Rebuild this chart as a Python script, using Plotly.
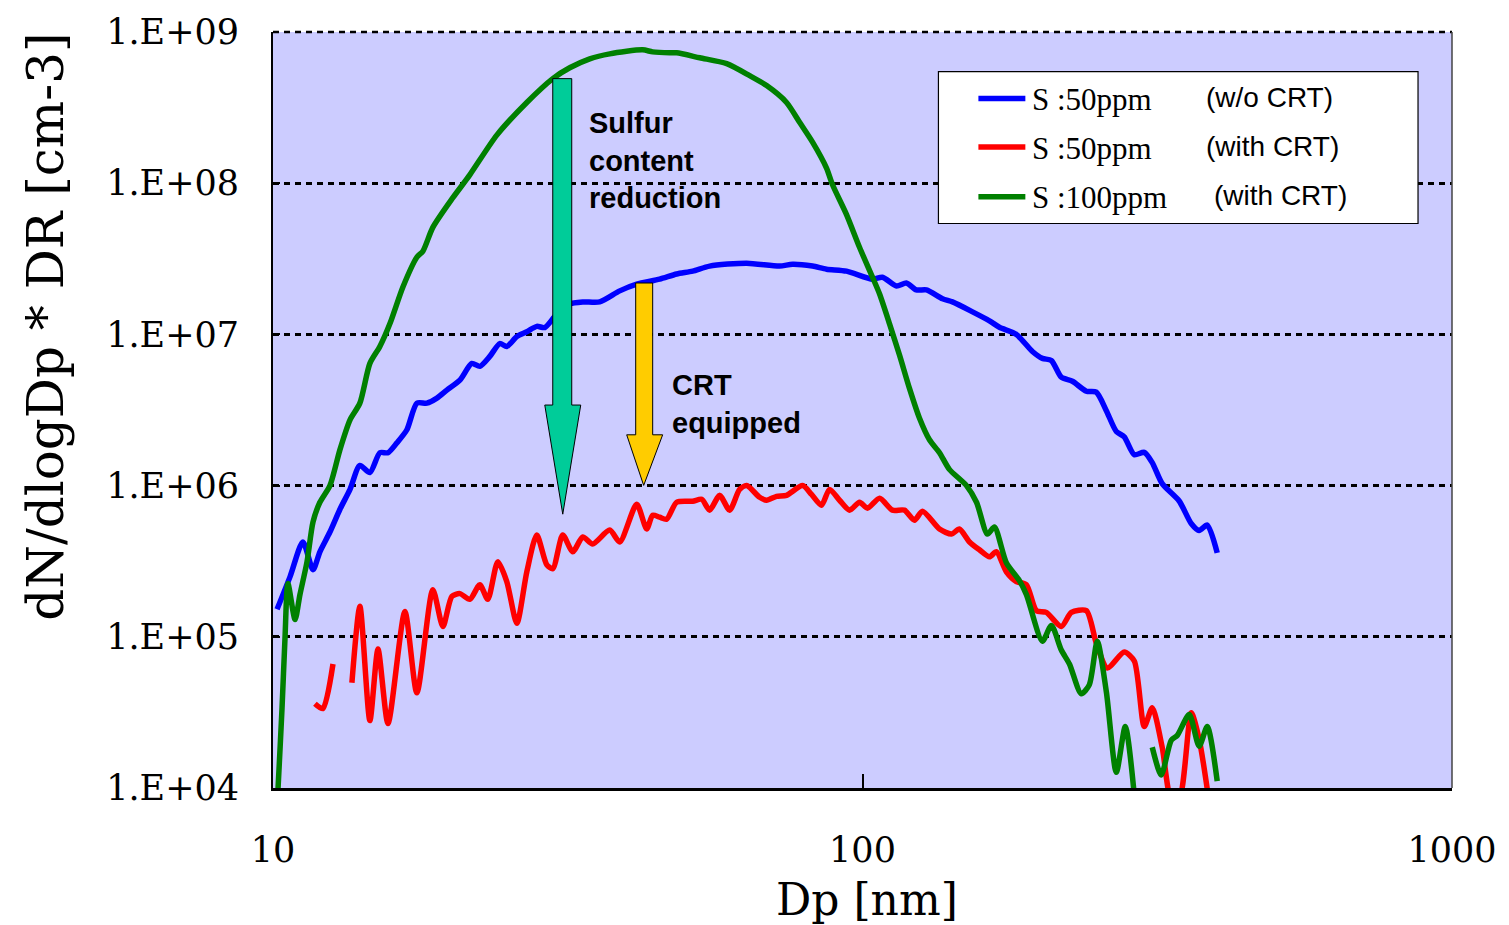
import plotly.graph_objects as go

# ---------------- data ----------------
blue_dp = [10.16, 10.69, 11.24, 11.69, 12.01, 12.49, 12.99, 13.51, 14.04, 14.60,
           15.18, 15.67, 16.23, 16.87, 17.54, 18.24, 18.97, 19.72, 20.75, 21.74,
           22.43, 23.32, 24.25, 24.92, 25.92, 26.95, 28.02, 28.91, 30.06, 31.01,
           31.87, 33.53, 35.83, 38.74, 41.40, 45.28, 48.39, 51.51, 55.04, 63.60,
           72.33, 76.10, 82.27, 86.89, 93.95, 103.98, 108.1, 114.2, 118.7, 123.4,
           128.4, 136.7, 142.1, 153.7, 164.2, 170.7, 182.4, 194.2, 201.9, 209.1,
           217.4, 227.0, 239.7, 249.2, 259.2, 269.5, 278.0, 289.1, 300.6, 310.1,
           322.4, 344.5, 361.1, 372.5, 384.4, 399.7]
blue_n = [1.52e5, 2.50e5, 4.24e5, 2.78e5, 3.65e5, 4.93e5, 6.98e5, 9.44e5, 1.36e6, 1.22e6,
          1.65e6, 1.65e6, 1.92e6, 2.34e6, 3.51e6, 3.51e6, 3.79e6, 4.28e6, 4.98e6, 6.43e6,
          6.15e6, 7.15e6, 8.70e6, 8.32e6, 9.67e6, 1.04e7, 1.13e7, 1.11e7, 1.31e7, 1.43e7,
          1.59e7, 1.64e7, 1.64e7, 1.94e7, 2.15e7, 2.32e7, 2.51e7, 2.62e7, 2.83e7, 2.96e7,
          2.83e7, 2.91e7, 2.83e7, 2.70e7, 2.62e7, 2.32e7, 2.39e7, 2.09e7, 2.19e7, 1.97e7,
          1.97e7, 1.72e7, 1.64e7, 1.41e7, 1.23e7, 1.115e7, 1.00e7, 7.71e6, 6.94e6, 6.73e6,
          5.21e6, 4.90e6, 4.21e6, 4.15e6, 3.13e6, 2.28e6, 2.10e6, 1.60e6, 1.66e6, 1.42e6,
          1.03e6, 7.91e5, 5.61e5, 5.04e5, 5.48e5, 3.59e5]

red_dp = [11.78, 12.15, 12.64, 13.1,
          13.61, 14.04, 14.60, 15.07, 15.67, 16.74, 17.54, 18.67, 19.42, 20.11,
          20.75, 21.57, 22.43, 23.14, 24.06, 24.92, 25.92, 26.95, 28.02, 29.14,
          29.83, 31.01, 32.25, 33.53, 34.85, 37.25, 38.74, 41.40, 43.05, 44.06,
          45.28, 46.54, 48.39, 51.51, 53.37, 55.04, 57.24, 59.51, 61.88, 63.60,
          66.91, 68.76, 71.48, 74.33, 79.13, 81.95, 85.21, 87.92, 91.42, 95.06,
          98.84, 101.97, 106.9, 112.4, 117.8, 122.5, 126.4, 135.1, 141.6, 146.0,
          151.9, 157.9, 164.2, 168.7, 175.4, 182.4, 189.7, 197.2, 205.0, 217.4,
          226.1, 239.7, 249.2, 260.2, 278.0, 289.1, 300.6, 310.1, 322.4, 334.0,
          344.5, 361.1, 372.5, 387.4]
red_n = [3.61e4, 3.35e4, 6.61e4, None,
         4.96e4, 1.59e5, 2.79e4, 8.29e4, 2.67e4, 1.47e5, 4.26e4, 2.05e5, 1.17e5, 1.85e5,
         1.93e5, 1.77e5, 2.21e5, 1.77e5, 3.13e5, 2.32e5, 1.23e5, 2.69e5, 4.71e5, 2.99e5,
         2.82e5, 4.71e5, 3.65e5, 4.57e5, 4.11e5, 5.08e5, 4.24e5, 7.52e5, 5.16e5, 6.37e5,
         6.18e5, 6.00e5, 7.76e5, 7.88e5, 8.12e5, 6.88e5, 8.62e5, 6.88e5, 9.44e5, 1.00e6,
         8.37e5, 8.00e5, 8.49e5, 8.62e5, 1.00e6, 8.75e5, 7.41e5, 9.44e5, 8.00e5, 6.88e5,
         7.76e5, 7.09e5, 8.24e5, 6.88e5, 6.88e5, 5.91e5, 6.77e5, 5.16e5, 4.78e5, 5.16e5,
         4.24e5, 3.76e5, 3.38e5, 3.65e5, 2.69e5, 2.32e5, 2.21e5, 1.49e5, 1.45e5, 1.17e5,
         1.45e5, 1.49e5, 9.08e4, 6.22e4, 7.93e4, 6.92e4, 2.55e4, 3.40e4, 1.86e4, 8.5e3,
         8.5e3, 3.15e4, 2.10e4, 8.0e3]

green_dp = [10.10, 10.20, 10.36, 10.48, 10.60, 10.90, 11.11, 11.42, 11.69, 12.01,
            12.49, 12.99, 13.51, 14.04, 14.60, 15.18, 15.79, 16.61, 17.54, 17.96,
            18.67, 20.19, 21.57, 23.97, 26.95, 29.83, 31.87, 34.46, 37.25, 42.37,
            44.06, 47.09, 48.39, 52.96, 58.83, 64.35, 68.76, 74.33, 78.21, 82.27,
            86.89, 88.96, 93.95, 98.84, 103.98, 106.9, 111.1, 115.6, 120.1, 124.9,
            129.9, 135.1, 140.4, 150.1, 156.1, 162.9, 167.4, 175.4, 184.6, 189.7,
            201.9, 209.1, 217.4, 224.4, 235.0, 242.5, 250.2, 259.2, 269.5, 279.1,
            289.1, 300.0, 310.1, 321.2, 334.0, 342.0, 358.3, 372.5, 384.4, 399.7]
green_n = [5.0e3, 1.0e4, 3.40e4, 9.79e4, 2.25e5, 1.30e5, 1.90e5, 3.13e5, 5.74e5, 7.76e5,
           1.00e6, 1.73e6, 2.72e6, 3.51e6, 6.43e6, 8.32e6, 1.18e7, 2.06e7, 3.24e7, 3.55e7,
           5.10e7, 8.02e7, 1.135e8, 2.08e8, 3.42e8, 4.92e8, 5.80e8, 6.65e8, 7.17e8, 7.62e8,
           7.39e8, 7.28e8, 7.28e8, 6.75e8, 6.17e8, 5.14e8, 4.42e8, 3.42e8, 2.53e8, 1.87e8,
           1.26e8, 9.76e7, 6.20e7, 3.77e7, 2.39e7, 1.85e7, 1.18e7, 7.26e6, 4.41e6, 2.80e6,
           2.01e6, 1.65e6, 1.28e6, 1.00e6, 7.76e5, 4.78e5, 5.32e5, 3.09e5, 2.35e5, 1.90e5,
           9.36e4, 1.19e5, 8.17e4, 6.61e4, 4.20e4, 4.81e4, 9.36e4, 4.33e4, 1.27e4, 2.55e4,
           9.0e3, None, 1.86e4, 1.22e4, 2.07e4, 2.23e4, 3.06e4, 1.89e4, 2.55e4, 1.11e4]

series_names = ["S :50ppm", "S :50ppm", "S :100ppm"]
series_notes = ["(w/o CRT)", "(with CRT)", "(with CRT)"]
series_colors = ["#0000FF", "#FF0000", "#008000"]

x_tickvals = [10, 100, 1000]
x_ticktext = ["10", "100", "1000"]
y_tickvals = [1e4, 1e5, 1e6, 1e7, 1e8, 1e9]
y_ticktext = ["1.E+04", "1.E+05", "1.E+06", "1.E+07", "1.E+08", "1.E+09"]

# ---------------- layout helpers ----------------
W, H = 1509, 925
# plot box in the reference picture (pixels)
X0, X1, Y0, Y1 = 273, 1453, 26, 788


def px(x):
    return (x - X0) / (X1 - X0)


def py(y):
    return (Y1 - y) / (Y1 - Y0)


fig = go.Figure()
for dp, n, col, nm in [(blue_dp, blue_n, series_colors[0], series_names[0]),
                       (red_dp, red_n, series_colors[1], series_names[1]),
                       (green_dp, green_n, series_colors[2], series_names[2])]:
    fig.add_trace(go.Scatter(x=dp, y=n, mode="lines", name=nm,
                             line=dict(color=col, width=5.5, shape="spline", smoothing=0.7),
                             connectgaps=False, showlegend=False))

serif = "DejaVu Serif"
shapes = []
# top dashed gridline (1.E+09) and right border
shapes.append(dict(type="line", xref="paper", yref="paper", x0=0, x1=1, y0=1, y1=1,
                   line=dict(color="black", width=2.5, dash="6px,5px")))
shapes.append(dict(type="line", xref="paper", yref="paper", x0=1, x1=1, y0=0, y1=1,
                   line=dict(color="#444444", width=1.5)))
# arrows
teal = (f"M {px(553)},{py(73)} L {px(572)},{py(73)} L {px(572)},{py(402)} "
        f"L {px(581)},{py(402)} L {px(563)},{py(512)} L {px(545)},{py(402)} "
        f"L {px(553)},{py(402)} Z")
yellow = (f"M {px(636)},{py(279)} L {px(653)},{py(279)} L {px(653)},{py(432)} "
          f"L {px(663)},{py(432)} L {px(644)},{py(483)} L {px(627)},{py(432)} "
          f"L {px(636)},{py(432)} Z")
shapes.append(dict(type="path", xref="paper", yref="paper", path=teal,
                   fillcolor="#00CC99", line=dict(color="black", width=1)))
shapes.append(dict(type="path", xref="paper", yref="paper", path=yellow,
                   fillcolor="#FFCC00", line=dict(color="black", width=1)))
# legend box
shapes.append(dict(type="rect", xref="paper", yref="paper",
                   x0=px(939), x1=px(1419), y0=py(219), y1=py(66),
                   fillcolor="white", line=dict(color="black", width=1.2)))
leg_y = [93, 142, 192]
for yy, col in zip(leg_y, series_colors):
    shapes.append(dict(type="line", xref="paper", yref="paper",
                       x0=px(979), x1=px(1026), y0=py(yy), y1=py(yy),
                       line=dict(color=col, width=5.5)))

ann = []
ann.append(dict(text="Sulfur<br>content<br>reduction", xref="paper", yref="paper",
                x=px(587), y=py(100), xanchor="left", yanchor="top", align="left",
                showarrow=False, font=dict(family="Liberation Sans, Arial", size=29,
                                           color="black", weight="bold")))
ann.append(dict(text="CRT<br>equipped", xref="paper", yref="paper",
                x=px(670), y=py(364), xanchor="left", yanchor="top", align="left",
                showarrow=False, font=dict(family="Liberation Sans, Arial", size=29,
                                           color="black", weight="bold")))
note_x = [1205, 1205, 1213]
for yy, nm, note, nx in zip(leg_y, series_names, series_notes, note_x):
    ann.append(dict(text=nm, xref="paper", yref="paper", x=px(1031), y=py(yy + 1),
                    xanchor="left", yanchor="middle", showarrow=False,
                    font=dict(family="Liberation Serif", size=31, color="black")))
    ann.append(dict(text=note, xref="paper", yref="paper", x=px(nx), y=py(yy - 1),
                    xanchor="left", yanchor="middle", showarrow=False,
                    font=dict(family="Liberation Sans, Arial", size=28, color="black")))
# axis titles
ann.append(dict(text="dN/dlogDp * DR [cm-3]", xref="paper", yref="paper",
                x=px(45), y=py(323), xanchor="center", yanchor="middle", textangle=-90,
                showarrow=False, font=dict(family=serif, size=50, color="black")))
ann.append(dict(text="Dp [nm]", xref="paper", yref="paper",
                x=px(868), y=py(900), xanchor="center", yanchor="middle",
                showarrow=False, font=dict(family=serif, size=44, color="black")))

fig.update_layout(
    width=W, height=H,
    margin=dict(l=X0, r=W - X1, t=Y0, b=H - Y1, pad=0),
    paper_bgcolor="white", plot_bgcolor="#CCCCFF",
    shapes=shapes, annotations=ann, showlegend=False,
    xaxis=dict(type="log", range=[1, 3], tickvals=x_tickvals, ticktext=x_ticktext,
               showgrid=False, zeroline=False, showline=True, linecolor="black",
               linewidth=2.5, ticks="inside", ticklen=14, tickwidth=2, tickcolor="black",
               tickfont=dict(family=serif, size=35, color="black"),
               ticklabelstandoff=29),
    yaxis=dict(type="log", range=[4, 9], tickvals=y_tickvals, ticktext=y_ticktext,
               showgrid=True, gridcolor="black", gridwidth=2.5, griddash="6px,5px",
               zeroline=False, showline=True, linecolor="black", linewidth=2,
               ticks="inside", ticklen=7, tickwidth=2, tickcolor="black",
               tickfont=dict(family=serif, size=35, color="black"),
               ticklabelstandoff=25),
)

fig.write_html("out.html")
